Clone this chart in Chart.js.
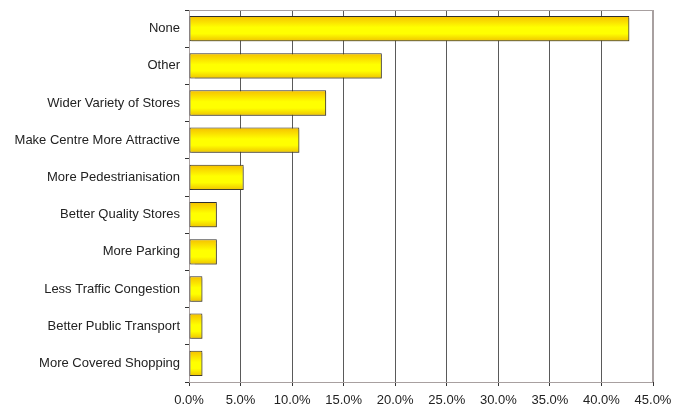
<!DOCTYPE html>
<html>
<head>
<meta charset="utf-8">
<script src="https://cdn.jsdelivr.net/npm/chart.js@4"></script>
<style>
  html, body { margin: 0; padding: 0; background: #fff; }
  #wrap { width: 673px; height: 408px; }
</style>
</head>
<body>
<div id="wrap"><canvas id="c"></canvas></div>
<script>
// values (share of respondents, %)
const categories = [
  "None",
  "Other",
  "Wider Variety of Stores",
  "Make Centre More Attractive",
  "More Pedestrianisation",
  "Better Quality Stores",
  "More Parking",
  "Less Traffic Congestion",
  "Better Public Transport",
  "More Covered Shopping"
];
const shares = [42.7, 18.7, 13.3, 10.7, 5.3, 2.7, 2.7, 1.3, 1.3, 1.3];
const xTicks = [0, 5, 10, 15, 20, 25, 30, 35, 40, 45];

const labelFont = { family: "Liberation Sans, Arial, sans-serif", size: 13 };

// vertical gold -> yellow -> gold fill for each bar
function barFill(ctx) {
  const chart = ctx.chart;
  const y = chart.scales.y;
  if (!chart.chartArea || !y || ctx.type !== "data") return "#ffe000";
  const band = (y.bottom - y.top) / categories.length;
  const mid = y.getPixelForValue(ctx.dataIndex);
  const h = band * 0.68;
  const g = chart.ctx.createLinearGradient(0, mid - h / 2, 0, mid + h / 2);
  g.addColorStop(0, "#f5bf00");
  g.addColorStop(0.45, "#ffff00");
  g.addColorStop(0.7, "#ffff00");
  g.addColorStop(1, "#eec200");
  return g;
}

// light frame round the plot + soft shadow on bars
const framePlugin = {
  id: "frame",
  beforeDatasetsDraw(chart) {
    const { ctx, chartArea: a } = chart;
    ctx.save();
    ctx.strokeStyle = "#a8a0a0";
    ctx.lineWidth = 1;
    ctx.strokeRect(a.left + 0.5, a.top + 0.5, a.right - a.left - 1, a.bottom - a.top);
    ctx.restore();
    ctx.save();
    ctx.shadowColor = "rgba(90,80,40,0.45)";
    ctx.shadowOffsetX = 2;
    ctx.shadowOffsetY = 2;
    ctx.shadowBlur = 1;
  },
  afterDatasetsDraw(chart) {
    chart.ctx.restore();
  }
};

new Chart(document.getElementById("c"), {
  type: "bar",
  data: {
    labels: categories,
    datasets: [{
      data: shares,
      backgroundColor: barFill,
      borderColor: "#2e2e2e",
      borderWidth: 1,
      borderSkipped: false,
      barPercentage: 0.68,
      categoryPercentage: 1
    }]
  },
  options: {
    indexAxis: "y",
    responsive: true,
    maintainAspectRatio: false,
    animation: false,
    layout: { padding: { top: 10, right: 20, left: 0, bottom: 0 } },
    plugins: { legend: { display: false }, tooltip: { enabled: false } },
    scales: {
      x: {
        type: "linear",
        min: 0,
        max: 45,
        afterBuildTicks: (s) => { s.ticks = xTicks.map((v) => ({ value: v })); },
        afterFit: (s) => { s.height = 26; s.paddingLeft = 0; s.paddingRight = 0; },
        grid: {
          // last line doubles as the light plot frame
          color: (c) => (c.tick && c.tick.value === 45 ? "#a8a0a0" : "#5a5a5a"),
          lineWidth: 1,
          drawTicks: true,
          tickLength: 4,
          tickColor: "#333"
        },
        border: { color: "#333", width: 1 },
        ticks: {
          color: "#222",
          font: labelFont,
          padding: 7,
          maxRotation: 0,
          callback: (v) => Number(v).toFixed(1) + "%"
        }
      },
      y: {
        offset: true,
        afterFit: (s) => { s.width = 189; s.paddingTop = 0; s.paddingBottom = 0; },
        grid: {
          offset: true,
          drawOnChartArea: false,
          drawTicks: true,
          tickLength: 4,
          tickColor: "#333"
        },
        border: { color: "#333", width: 1 },
        ticks: {
          color: "#222",
          font: labelFont,
          padding: 5
        }
      }
    }
  },
  plugins: [framePlugin]
});
</script>
</body>
</html>
